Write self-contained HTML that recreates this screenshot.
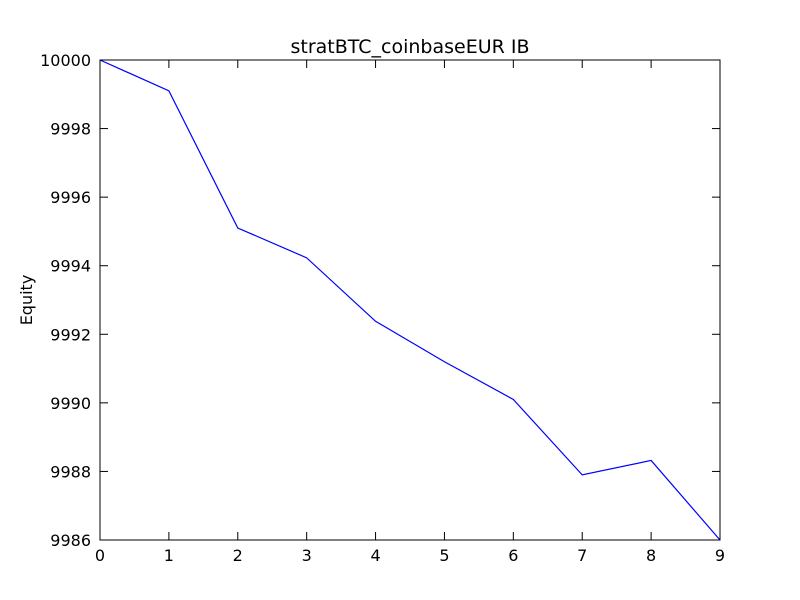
<!DOCTYPE html>
<html><head><meta charset="utf-8"><style>
body{margin:0;background:#fff;}
svg{display:block;font-family:"DejaVu Sans","Liberation Sans",sans-serif;}
</style></head><body>
<svg id="chart" width="800" height="600">
<rect width="800" height="600" fill="#fff"/>
<text x="410" y="53" font-size="19" text-anchor="middle">stratBTC_coinbaseEUR IB</text>
<text transform="translate(32,300) rotate(-90)" font-size="16" text-anchor="middle">Equity</text>
<g id="ticks"></g>
<path id="line" fill="none" stroke="#0000ff" stroke-width="1.2"/>
<rect x="100" y="60" width="620" height="480" fill="none" stroke="#000" stroke-width="1"/>
</svg>
<script>
const xValues=[0,1,2,3,4,5,6,7,8,9];
const equity=[10000,9999.1,9995.1,9994.23,9992.38,9991.2,9990.1,9987.9,9988.32,9986];
const xTicks=[0,1,2,3,4,5,6,7,8,9];
const yTicks=[9986,9988,9990,9992,9994,9996,9998,10000];
const L=100,R=720,T=60,B=540,xmin=0,xmax=9,ymin=9986,ymax=10000;
const sx=v=>L+(v-xmin)/(xmax-xmin)*(R-L);
const sy=v=>B-(v-ymin)/(ymax-ymin)*(B-T);
const NS="http://www.w3.org/2000/svg";
const g=document.getElementById('ticks');
function mk(tag,attrs){const e=document.createElementNS(NS,tag);for(const k in attrs)e.setAttribute(k,attrs[k]);g.appendChild(e);return e;}
xTicks.forEach(t=>{
  const x=sx(t);
  const a=mk('line',{x1:x,x2:x,y1:B,y2:B-8,stroke:'#000'});
  
  
  const b=mk('line',{x1:x,x2:x,y1:T,y2:T+8,stroke:'#000'});
  
  
  const tx=mk('text',{x:x,y:B+21,'font-size':16,'text-anchor':'middle'});
  tx.textContent=t;
  
  
});
yTicks.forEach(t=>{
  const y=sy(t);
  const a=mk('line',{x1:L,x2:L+8,y1:y,y2:y,stroke:'#000'});
  
  
  const b=mk('line',{x1:R,x2:R-8,y1:y,y2:y,stroke:'#000'});
  
  
  const tx=mk('text',{x:L-9,y:y+6,'font-size':16,'text-anchor':'end'});
  tx.textContent=t;
  
  
});
document.getElementById('line').setAttribute('d',xValues.map((v,i)=>(i?'L':'M')+sx(v)+','+sy(equity[i])).join(' '));
</script>
</body></html>
